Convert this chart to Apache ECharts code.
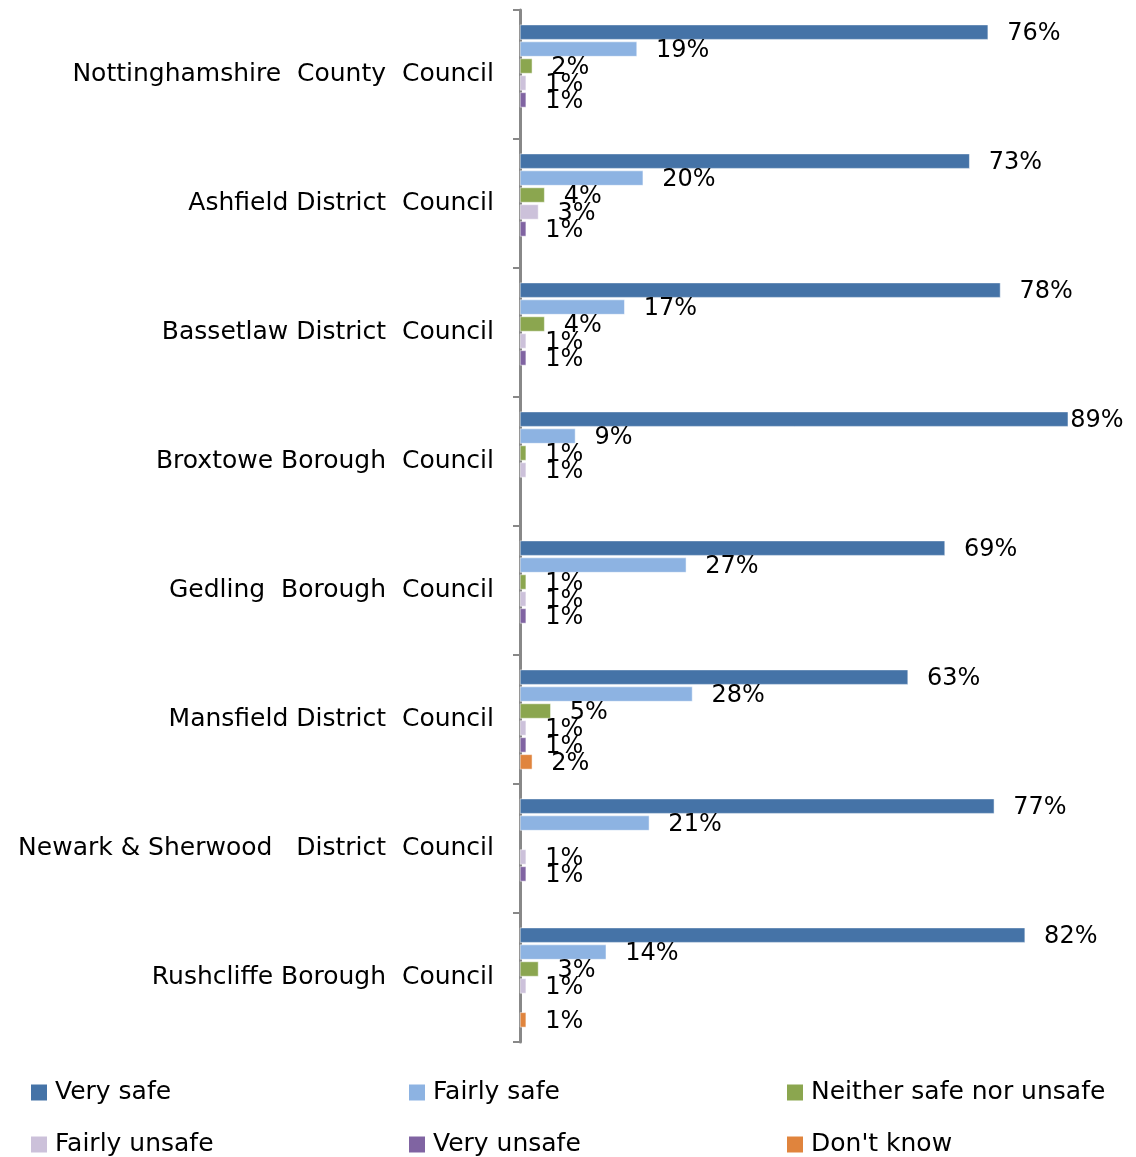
<!DOCTYPE html>
<html>
<head>
<meta charset="utf-8">
<script src="https://cdn.jsdelivr.net/npm/echarts@6/dist/echarts.min.js"></script>
<style>
  html, body { margin: 0; padding: 0; background: #fff; }
  #chart { width: 1136px; height: 1157px; }
</style>
</head>
<body>
<div id="chart"></div>
<script>
// councils, top to bottom
const councils = [
  'Nottinghamshire  County  Council',
  'Ashfield District  Council',
  'Bassetlaw District  Council',
  'Broxtowe Borough  Council',
  'Gedling  Borough  Council',
  'Mansfield District  Council',
  'Newark & Sherwood   District  Council',
  'Rushcliffe Borough  Council'
];

// percentages per answer (null = no bar)
const verySafe = [76, 73, 78, 89, 69, 63, 77, 82];
const fairlySafe = [19, 20, 17, 9, 27, 28, 21, 14];
const neither = [2, 4, 4, 1, 1, 5, null, 3];
const fairlyUnsafe = [1, 3, 1, 1, 1, 1, 1, 1];
const veryUnsafe = [1, 1, 1, null, 1, 1, 1, null];
const dontKnow = [null, null, null, null, null, 2, null, 1];

const seriesNames = ['Very safe', 'Fairly safe', 'Neither safe nor unsafe', 'Fairly unsafe', 'Very unsafe', "Don't know"];
const seriesData = [verySafe, fairlySafe, neither, fairlyUnsafe, veryUnsafe, dontKnow];
const colors = ['#4573A7', '#8DB3E2', '#8BA64F', '#CCC1DA', '#8064A2', '#E0843D'];

const font = 'DejaVu Sans, Verdana, sans-serif';

const chart = echarts.init(document.getElementById('chart'));

const series = seriesNames.map((name, i) => ({
  name: name,
  type: 'bar',
  // labels of the longest bars sit right against the bar end (no room left)
  data: seriesData[i].map((v) => (v != null && v > 85 ? { value: v, label: { distance: 2 } } : v)),
  barWidth: 15,
  barGap: '13%',
  itemStyle: { color: colors[i], borderColor: '#fff', borderWidth: 0.5 },
  label: {
    show: true,
    position: 'right',
    distance: 19,
    offset: [0, 2],
    color: '#000',
    fontFamily: font,
    fontSize: 24,
    formatter: (p) => p.value + '%'
  },
  animation: false
}));

// one legend per entry, laid out in 3 columns x 2 rows
const legendCols = [29, 407, 785];
const legendRows = [1080, 1132];
const legends = seriesNames.map((name, i) => ({
  left: legendCols[i % 3],
  top: legendRows[Math.floor(i / 3)],
  padding: 0,
  itemWidth: 18,
  itemHeight: 18,
  icon: 'rect',
  data: [name],
  textStyle: { fontFamily: font, fontSize: 25, lineHeight: 25, color: '#000', padding: [0, 0, 0, 2] }
}));

chart.setOption({
  backgroundColor: '#fff',
  color: colors,
  grid: { left: 520, top: 10, width: 619, bottom: 115, containLabel: false },
  xAxis: {
    type: 'value',
    min: 0,
    max: 100,
    show: false
  },
  yAxis: {
    type: 'category',
    inverse: true,
    data: councils,
    axisLine: { show: true, lineStyle: { color: '#888', width: 3 } },
    axisTick: { show: true, length: 7, lineStyle: { color: '#888', width: 2 } },
    axisLabel: { color: '#000', fontFamily: font, fontSize: 25, margin: 26 }
  },
  legend: legends,
  series: series
});
</script>
</body>
</html>
